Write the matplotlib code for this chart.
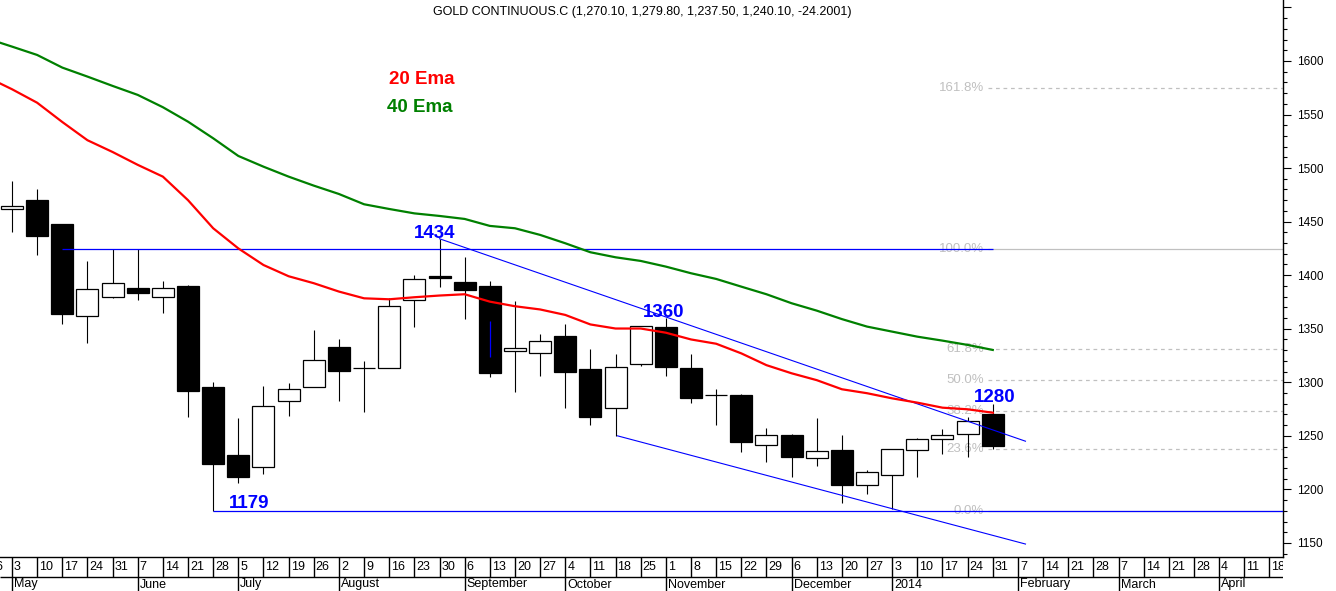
import matplotlib
matplotlib.use("Agg")
import matplotlib.pyplot as plt
import matplotlib.ticker as ticker

plt.rcParams['font.family'] = ['Liberation Sans', 'DejaVu Sans']

# weekly bars, index 0 = week of 3 May 2013, index 39 = 31 Jan 2014
opens = [1462, 1470, 1448, 1362, 1380, 1388, 1380, 1390, 1296, 1232,
         1221, 1283, 1296, 1333, 1313, 1313, 1377, 1399, 1394, 1390,
         1329, 1327, 1343, 1312, 1276, 1317, 1352, 1313, 1288, 1288,
         1241, 1251, 1229, 1237, 1204, 1213, 1237, 1247, 1252, 1270.1]
highs = [1488, 1480, 1448, 1413, 1424, 1424, 1395, 1391, 1300, 1267,
         1297, 1299, 1349, 1340, 1320, 1379, 1400, 1434, 1417, 1395,
         1376, 1345, 1354, 1331, 1326, 1353, 1360, 1326, 1294, 1289,
         1257, 1252, 1267, 1251, 1218, 1238, 1248, 1256, 1268, 1279.8]
lows = [1440, 1419, 1354, 1337, 1379, 1377, 1365, 1268, 1179.4, 1206,
        1214, 1269, 1296, 1283, 1272, 1313, 1352, 1389, 1359, 1305,
        1291, 1306, 1276, 1260, 1250, 1315, 1306, 1281, 1260, 1235,
        1226, 1212, 1222, 1187, 1196, 1182, 1212, 1233, 1230, 1237.5]
closes = [1465, 1437, 1364, 1387, 1393, 1383, 1388, 1292, 1224, 1212,
          1278, 1294, 1321, 1311, 1313.5, 1371, 1396, 1397, 1386, 1309,
          1332, 1339, 1310, 1268, 1314, 1353, 1314, 1285, 1288, 1244,
          1251, 1230, 1236, 1204, 1216, 1238, 1247, 1251, 1264, 1240.1]

# moving averages, index -1 .. 39
ema_weeks = list(range(-1, 40))
ema20 = [1585, 1573.6, 1561, 1543, 1526, 1515, 1503, 1492, 1470, 1443.8,
         1425, 1409.5, 1399, 1392.5, 1384.7, 1378.4, 1377.5, 1379.4, 1381,
         1382.2, 1375.3, 1371, 1368, 1362.9, 1354, 1350.2, 1350.2, 1346.3,
         1340, 1336, 1327, 1316, 1308.4, 1302, 1293.5, 1289.8, 1285, 1281,
         1276.3, 1274.8, 1271.6]
ema40 = [1621, 1613.4, 1605.6, 1593.8, 1585.4, 1576.7, 1568.3, 1556.8,
         1543.3, 1527.8, 1511.3, 1501.3, 1492, 1483.6, 1475.8, 1466.2,
         1461.8, 1457.7, 1455.3, 1452.5, 1446, 1443.8, 1437.6, 1429.8,
         1421.4, 1416.7, 1413.3, 1408, 1401.8, 1396.5, 1389.3, 1382.2,
         1373.8, 1366.9, 1359, 1352, 1347.3, 1342.6, 1338.9, 1334.9, 1330.2]

# date strip, index -1 = 26 April 2013
day_labels = ["26", "3", "10", "17", "24", "31", "7", "14", "21", "28",
              "5", "12", "19", "26", "2", "9", "16", "23", "30", "6",
              "13", "20", "27", "4", "11", "18", "25", "1", "8", "15",
              "22", "29", "6", "13", "20", "27", "3", "10", "17", "24",
              "31", "7", "14", "21", "28", "7", "14", "21", "28", "4",
              "11", "18"]
month_labels = ["May", "June", "July", "August", "September", "October",
                "November", "December", "2014", "February", "March", "April"]
month_weeks = [0, 5, 9, 13, 18, 22, 26, 31, 35, 40, 44, 48]

# fibonacci retracement between 1180 and 1424
fib_labels = ["161.8%", "100.0%", "61.8%", "50.0%", "38.2%", "23.6%", "0.0%"]
fib_levels = [1574.8, 1424, 1330.8, 1302, 1273.2, 1237.6, 1180]

ytick_values = [1150, 1200, 1250, 1300, 1350, 1400, 1450, 1500, 1550, 1600, 1650]
ytick_labels = ["1150", "1200", "1250", "1300", "1350", "1400", "1450",
                "1500", "1550", "1600", ""]

title = "GOLD CONTINUOUS.C (1,270.10, 1,279.80, 1,237.50, 1,240.10, -24.2001)"

XMIN, XMAX = -0.477, 50.54
BLUE = "#0000ff"
FIBGRAY = "#c0c0c0"


def draw_candles(ax):
    weeks = list(range(len(opens)))
    ax.vlines(weeks, lows, highs, color="black", lw=0.8, zorder=2)
    for i in weeks:
        o, c = opens[i], closes[i]
        face = "black" if c < o else "white"
        ax.bar(i, abs(c - o), width=0.875, bottom=min(o, c), color=face,
               edgecolor="black", linewidth=0.9, zorder=3)


def draw_drawings(ax):
    # support / resistance and channel
    ax.hlines(1424, 2, 39, color=BLUE, lw=0.9, zorder=4)
    ax.hlines(1179.4, 8, XMAX, color=BLUE, lw=0.9, zorder=4)
    ax.plot([17, 40.3], [1434, 1245], color=BLUE, lw=0.8, zorder=4)
    ax.plot([24.08, 40.3], [1250, 1149], color=BLUE, lw=0.8, zorder=4)
    ax.vlines(19, 1323.4, 1357.3, color=BLUE, lw=0.9, zorder=4)

    for lab, lev in zip(fib_labels, fib_levels):
        style = "-" if lab in ("100.0%", "0.0%") else (0, (3, 3))
        ax.hlines(lev, 38.8, XMAX, color=FIBGRAY, lw=0.9, linestyle=style,
                  zorder=1)
        ax.text(38.65, lev, lab, color=FIBGRAY, fontsize=9.5, ha="right",
                va="center", zorder=1)

    for txt, x, y in [("1434", 16.8, 1438.5), ("1360", 25.9, 1365),
                      ("1280", 39.08, 1285.7), ("1179", 9.42, 1186.4)]:
        ax.text(x, y, txt, color=BLUE, fontsize=13.5, fontweight="bold",
                ha="center", va="center", zorder=6)

    ax.text(16.3, 1582.9, "20 Ema", color="#ff0000", fontsize=13.5,
            fontweight="bold", ha="center", va="center")
    ax.text(16.2, 1556.4, "40 Ema", color="#008000", fontsize=13.5,
            fontweight="bold", ha="center", va="center")


def draw_dates(axd):
    axd.set_xlim(XMIN, XMAX)
    axd.set_ylim(0, 34)
    axd.axis("off")
    weeks = list(range(-1, len(day_labels) - 1))
    axd.vlines(weeks, 14, 34, color="black", lw=1.0)
    axd.vlines(month_weeks, 0, 14, color="black", lw=1.0)
    axd.hlines(14, XMIN, XMAX, color="black", lw=1.0)
    off = 2 / 25.15
    for w, lab in zip(weeks, day_labels):
        axd.text(w + off, 23.5, lab, fontsize=9, ha="left", va="center",
                 clip_on=True)
    for w, lab in zip(month_weeks, month_labels):
        axd.text(w + off, 6.5, lab, fontsize=9, ha="left", va="center",
                 clip_on=True)


def main():
    W, H = 1336, 591
    fig = plt.figure(figsize=(W / 100, H / 100), dpi=100)
    ax = fig.add_axes([0, 34 / H, 1283 / W, 557 / H])
    axd = fig.add_axes([0, 0, 1283 / W, 34 / H])

    draw_candles(ax)
    ax.plot(ema_weeks, ema20, color="#ff0000", lw=1.6, zorder=5)
    ax.plot(ema_weeks, ema40, color="#008000", lw=1.6, zorder=5)
    draw_drawings(ax)

    ax.set_xlim(XMIN, XMAX)
    ax.set_ylim(1136.9, 1656.9)
    ax.set_xticks([])
    ax.yaxis.tick_right()
    ax.set_yticks(ytick_values, ytick_labels)
    ax.yaxis.set_minor_locator(ticker.MultipleLocator(10))
    ax.tick_params(axis="y", which="major", length=6, width=0.8,
                   labelsize=8.5, pad=4)
    ax.tick_params(axis="y", which="minor", length=3, width=0.8)
    for side in ("left", "top"):
        ax.spines[side].set_visible(False)
    ax.spines["right"].set_linewidth(1.0)
    ax.spines["bottom"].set_linewidth(1.0)

    draw_dates(axd)

    fig.text(642 / W, 1 - 12 / H, title, fontsize=9, ha="center", va="center")
    fig.savefig("out.png", dpi=100)


if __name__ == "__main__":
    main()
